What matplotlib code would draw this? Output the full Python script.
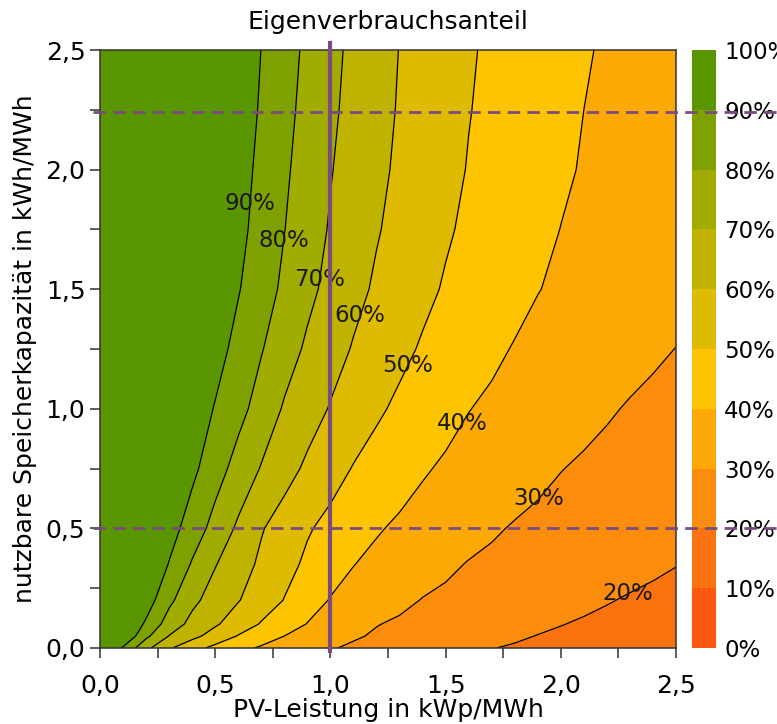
import numpy as np
import matplotlib
matplotlib.use("Agg")
import matplotlib.pyplot as plt
from matplotlib.lines import Line2D
from matplotlib.transforms import blended_transform_factory
from matplotlib.ticker import FuncFormatter, MultipleLocator

# ---------------- data ----------------
pv_power = [0.0, 0.1, 0.2, 0.3, 0.4, 0.5, 0.6, 0.7, 0.8, 0.9, 1.0, 1.1, 1.2,
            1.3, 1.4, 1.5, 1.6, 1.7, 1.8, 1.9, 2.0, 2.1, 2.2, 2.3, 2.4, 2.5]
storage = [0.0, 0.05, 0.1, 0.2, 0.35, 0.5, 0.75, 1.0, 1.25, 1.5, 1.75, 2.0, 2.25, 2.5]

share_s000 = [100, 88.9, 72.5, 61.2, 53.5, 47.5, 42.8, 38.8, 36.1, 33.3, 30.6, 28.8, 27.4, 26.0, 24.5, 23.1, 21.6, 20.2, 19.3, 18.6, 17.8, 17.1, 16.3, 15.5, 14.8, 14.0]
share_s005 = [100, 99.5, 82.2, 69.7, 62.8, 56.0, 49.5, 44.8, 40.0, 37.0, 33.9, 30.9, 29.1, 27.7, 26.4, 25.0, 23.7, 22.4, 21.0, 19.8, 19.0, 18.2, 17.4, 16.6, 15.8, 15.0]
share_s010 = [100, 100, 88.5, 75.4, 67.2, 61.2, 55.2, 49.3, 44.4, 39.7, 36.6, 33.4, 30.3, 28.9, 27.7, 26.4, 25.2, 23.9, 22.7, 21.5, 20.2, 19.3, 18.5, 17.7, 16.8, 16.0]
share_s020 = [100, 100, 94.9, 82.3, 72.3, 65.9, 60.5, 55.1, 49.7, 44.3, 39.5, 37.0, 34.5, 31.9, 29.7, 28.6, 27.4, 26.2, 25.0, 23.9, 22.7, 21.5, 20.4, 19.4, 18.5, 17.6]
share_s035 = [100, 100, 100, 89.5, 79.1, 70.5, 64.2, 58.3, 53.1, 48.3, 44.3, 40.2, 37.9, 35.8, 33.6, 31.4, 29.6, 28.6, 27.5, 26.5, 25.4, 24.4, 23.3, 22.3, 21.3, 20.2]
share_s050 = [100, 100, 100, 94.2, 85.3, 76.6, 68.4, 60.7, 55.7, 50.9, 47.4, 44.1, 40.8, 38.6, 36.7, 34.7, 32.8, 30.9, 29.4, 28.3, 27.2, 26.1, 25.0, 23.9, 22.8, 21.7]
share_s075 = [100, 100, 100, 100, 92.3, 84.1, 76.4, 69.4, 63.6, 58.3, 53.7, 49.5, 46.6, 43.8, 40.9, 38.8, 37.1, 35.4, 33.7, 31.9, 30.2, 29.0, 27.9, 26.8, 25.6, 24.5]
share_s100 = [100, 100, 100, 100, 95.7, 89.4, 83.0, 76.1, 69.0, 64.1, 59.4, 55.4, 51.4, 48.3, 45.6, 42.9, 40.2, 38.6, 37.0, 35.4, 33.9, 32.3, 30.8, 29.4, 28.3, 27.2]
share_s125 = [100, 100, 100, 100, 100, 93.6, 87.1, 80.6, 74.3, 68.5, 63.8, 59.3, 55.8, 52.2, 49.1, 46.6, 44.1, 41.6, 39.5, 38.1, 36.8, 35.4, 34.0, 32.6, 31.2, 29.9]
share_s150 = [100, 100, 100, 100, 100, 96.8, 90.6, 84.3, 78.2, 72.4, 67.3, 62.7, 58.7, 55.4, 52.1, 49.2, 47.0, 44.7, 42.5, 40.2, 38.9, 37.6, 36.4, 35.1, 33.9, 32.6]
share_s175 = [100, 100, 100, 100, 100, 98.9, 92.7, 86.4, 80.2, 74.6, 69.2, 65.0, 60.7, 57.3, 54.2, 51.0, 48.5, 46.3, 44.2, 42.0, 39.9, 38.6, 37.3, 35.9, 34.6, 33.3]
share_s200 = [100, 100, 100, 100, 100, 100, 93.9, 87.7, 81.5, 75.9, 70.5, 66.3, 62.1, 58.5, 55.5, 52.4, 49.6, 47.5, 45.4, 43.3, 41.2, 39.4, 38.1, 36.7, 35.4, 34.0]
share_s225 = [100, 100, 100, 100, 100, 100, 95.2, 89.0, 82.8, 77.1, 71.7, 67.2, 63.1, 59.3, 56.3, 53.3, 50.3, 48.2, 46.1, 44.1, 42.0, 40.0, 38.6, 37.3, 35.9, 34.5]
share_s250 = [100, 100, 100, 100, 100, 100, 96.0, 89.9, 83.9, 78.1, 72.6, 67.9, 63.8, 59.8, 56.8, 53.9, 50.9, 48.6, 46.7, 44.7, 42.7, 40.7, 39.1, 37.7, 36.4, 35.0]

levels = [0, 10, 20, 30, 40, 50, 60, 70, 80, 90, 100]
level_labels = ["0%", "10%", "20%", "30%", "40%", "50%", "60%", "70%", "80%", "90%", "100%"]
line_levels = [20, 30, 40, 50, 60, 70, 80, 90]
pv_reference = 1.0
storage_marks = [0.5, 2.24]

# ---------------- styling ----------------
band_colors = ["#FD5610", "#FB720F", "#FB8C0C", "#FCA805", "#FEC400",
               "#DEBB00", "#BFB300", "#A0AC00", "#7EA100", "#5A9600"]
purple = "#7A4C7E"
FS = 18

plt.rcParams["font.family"] = ["DejaVu Sans"]

share = np.array([share_s000, share_s005, share_s010, share_s020, share_s035,
                  share_s050, share_s075, share_s100, share_s125, share_s150,
                  share_s175, share_s200, share_s225, share_s250])

fig = plt.figure(figsize=(7.77, 7.24), dpi=100)
ax = fig.add_axes([100 / 777, 1 - 648 / 724, 576 / 777, 598 / 724])
cax = fig.add_axes([692 / 777, 1 - 648 / 724, 24 / 777, 598 / 724])

cf = ax.contourf(pv_power, storage, share, levels=levels, colors=band_colors)
cl = ax.contour(pv_power, storage, share, levels=line_levels, colors="black",
                linewidths=0.9)

label_spots = [(0.634, 1.86), (0.825, 1.70), (0.968, 1.54), (1.146, 1.384),
               (1.345, 1.179), (1.584, 0.932), (1.901, 0.627), (2.30, 0.209)]
texts = ax.clabel(cl, manual=label_spots, inline=False,
                  fmt=lambda v: f"{int(round(v))}%", fontsize=16.5, colors="#1a1a1a")
for t in texts:
    t.set_rotation(0)

ax.set_xlim(0, 2.5)
ax.set_ylim(0, 2.5)

comma = FuncFormatter(lambda v, p: f"{v:.1f}".replace(".", ","))
for axis in (ax.xaxis, ax.yaxis):
    axis.set_major_locator(MultipleLocator(0.5))
    axis.set_minor_locator(MultipleLocator(0.25))
    axis.set_major_formatter(comma)
ax.tick_params(which="both", direction="out", length=7, width=1.1,
               color="#333333", labelsize=FS)
ax.tick_params(axis="x", which="major", pad=12)
for sp in ax.spines.values():
    sp.set_color("#333333")
    sp.set_linewidth(1.1)

ax.set_title("Eigenverbrauchsanteil", fontsize=FS, pad=15)
ax.set_xlabel("PV-Leistung in kWp/MWh", fontsize=FS, labelpad=0)
ax.set_ylabel("nutzbare Speicherkapazität in kWh/MWh", fontsize=FS, labelpad=6)

# reference lines
ax.axvline(pv_reference, ymin=-0.005, ymax=1.012, color=purple, lw=3,
           clip_on=False, zorder=6)
trans = blended_transform_factory(ax.transAxes, ax.transData)
for s in storage_marks:
    fig.add_artist(Line2D([-0.012, 1.2], [s, s], transform=trans, color=purple,
                          lw=2, linestyle=(0, (4.5, 2.6)), zorder=10))

# colorbar
cb = fig.colorbar(cf, cax=cax, ticks=levels)
cb.ax.set_yticklabels(level_labels)
cb.outline.set_visible(False)
cax.tick_params(length=0, pad=6, labelsize=16.5)

fig.savefig("out.png", dpi=100)
